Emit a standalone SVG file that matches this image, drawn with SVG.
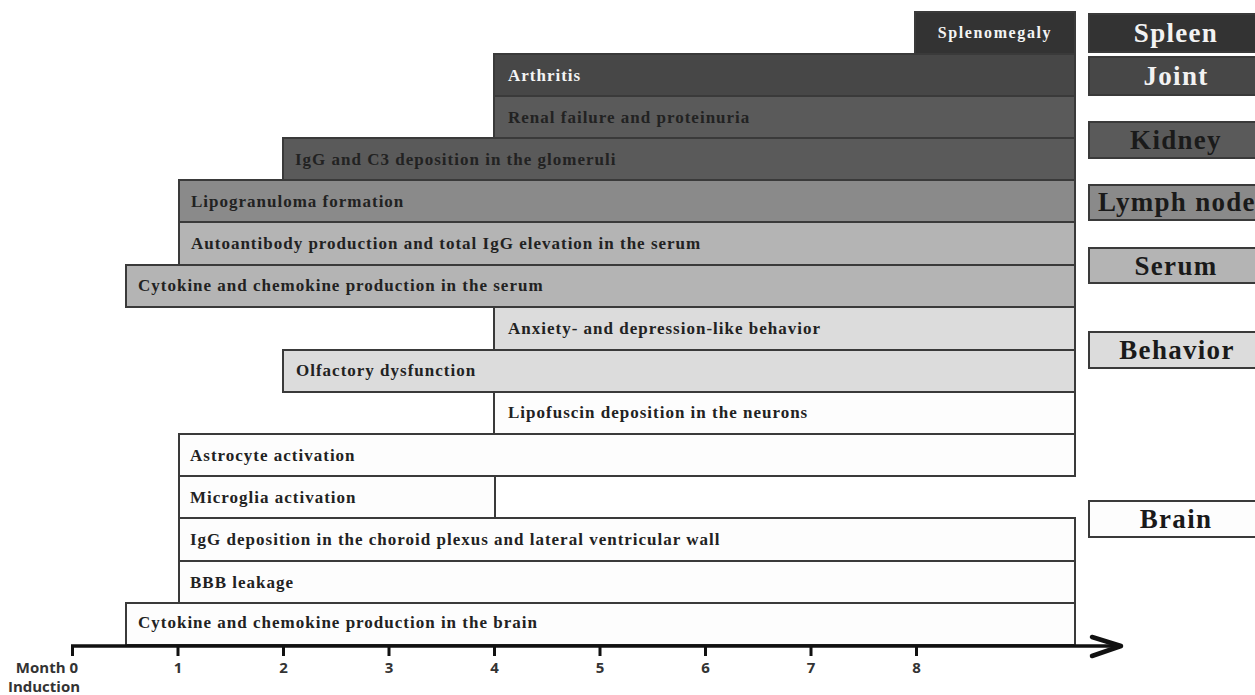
<svg xmlns="http://www.w3.org/2000/svg" width="1255" height="695" viewBox="0 0 1255 695">
<style>
.bar{stroke:#3a3a3a;stroke-width:2}
.t{font-family:"Liberation Serif","Times New Roman",serif;font-weight:bold;font-size:17px;letter-spacing:1px;fill:#222}
.tw{fill:#f4f4f4}
.lg{font-family:"Liberation Serif","Times New Roman",serif;font-weight:bold;font-size:27px;letter-spacing:1.3px;text-anchor:middle;fill:#1a1a1a}
.lgw{fill:#f2f2f2}
.ax{font-family:"Open Sans","Liberation Sans",sans-serif;font-weight:bold;font-size:15px;fill:#333;text-anchor:middle}
.axe{text-anchor:end}
.c1{fill:#333333}.c2{fill:#474747}.c3{fill:#5a5a5a}.c4{fill:#8a8a8a}.c5{fill:#b4b4b4}.c6{fill:#dcdcdc}.c7{fill:#fdfdfd}
</style>
<rect width="1255" height="695" fill="#ffffff"/>
<g id="bars">
<g id="splenomegaly"><rect class="bar c1" x="915" y="12" width="160" height="42"/><text class="t tw" x="995" y="38" text-anchor="middle" style="font-size:16px;letter-spacing:1.6px">Splenomegaly</text></g>
<g id="arthritis"><rect class="bar c2" x="494" y="54" width="581" height="42"/><text class="t tw" x="508" y="81">Arthritis</text></g>
<g id="renal"><rect class="bar c3" x="494" y="96" width="581" height="42"/><text class="t" x="508" y="123">Renal failure and proteinuria</text></g>
<g id="igg-c3"><rect class="bar c3" x="283" y="138" width="792" height="42"/><text class="t" x="295" y="165">IgG and C3 deposition in the glomeruli</text></g>
<g id="lipogranuloma"><rect class="bar c4" x="179" y="180" width="896" height="42"/><text class="t" x="191" y="207">Lipogranuloma formation</text></g>
<g id="autoantibody"><rect class="bar c5" x="179" y="222" width="896" height="43"/><text class="t" x="191" y="249">Autoantibody production and total IgG elevation in the serum</text></g>
<g id="cytokine-serum"><rect class="bar c5" x="126" y="265" width="949" height="42"/><text class="t" x="138" y="291">Cytokine and chemokine production in the serum</text></g>
<g id="anxiety"><rect class="bar c6" x="494" y="307" width="581" height="43"/><text class="t" x="508" y="334">Anxiety- and depression-like behavior</text></g>
<g id="olfactory"><rect class="bar c6" x="283" y="350" width="792" height="42"/><text class="t" x="296" y="376">Olfactory dysfunction</text></g>
<g id="lipofuscin"><rect class="bar c7" x="494" y="392" width="581" height="42"/><text class="t" x="508" y="418">Lipofuscin deposition in the neurons</text></g>
<g id="astrocyte"><rect class="bar c7" x="179" y="434" width="896" height="42"/><text class="t" x="190" y="461">Astrocyte activation</text></g>
<g id="microglia"><rect class="bar c7" x="179" y="476" width="316" height="42"/><text class="t" x="190" y="503">Microglia activation</text></g>
<g id="igg-choroid"><rect class="bar c7" x="179" y="518" width="896" height="43"/><text class="t" x="190" y="545">IgG deposition in the choroid plexus and lateral ventricular wall</text></g>
<g id="bbb"><rect class="bar c7" x="179" y="561" width="896" height="42"/><text class="t" x="190" y="588">BBB leakage</text></g>
<g id="cytokine-brain"><rect class="bar c7" x="126" y="603" width="949" height="42"/><text class="t" x="138" y="628">Cytokine and chemokine production in the brain</text></g>
</g>
<g id="legend">
<g id="lg-spleen"><rect class="bar c1" x="1089" y="14" width="175" height="38"/><text class="lg lgw" x="1176" y="42">Spleen</text></g>
<g id="lg-joint"><rect class="bar c2" x="1089" y="57" width="175" height="38"/><text class="lg lgw" x="1176" y="85">Joint</text></g>
<g id="lg-kidney"><rect class="bar c3" x="1089" y="122" width="175" height="36"/><text class="lg" x="1176" y="149">Kidney</text></g>
<g id="lg-lymph"><rect class="bar c4" x="1089" y="185" width="175" height="35"/><text class="lg" x="1177" y="211">Lymph node</text></g>
<g id="lg-serum"><rect class="bar c5" x="1089" y="248" width="175" height="35"/><text class="lg" x="1176" y="275">Serum</text></g>
<g id="lg-behavior"><rect class="bar c6" x="1089" y="332" width="175" height="36"/><text class="lg" x="1177" y="359">Behavior</text></g>
<g id="lg-brain"><rect class="bar c7" x="1089" y="501" width="175" height="36"/><text class="lg" x="1176" y="528">Brain</text></g>
</g>
<g id="connectors" stroke="#111" fill="none">
<line x1="71" y1="646" x2="1118" y2="646" stroke-width="3.5"/>
<path d="M72.5 646V656 M178 646V656 M283.5 646V656 M389 646V656 M494.5 646V656 M600 646V656 M705.5 646V656 M811 646V656 M916.5 646V656" stroke-width="3"/>
<path d="M1092 637L1121 646L1092 656" stroke-width="4.5" stroke-linecap="round" stroke-linejoin="round"/>
</g>
<g id="axis-labels">
<text class="ax axe" x="78" y="673">Month 0</text>
<text class="ax" x="44" y="692">Induction</text>
<text class="ax" x="178" y="673">1</text>
<text class="ax" x="283.5" y="673">2</text>
<text class="ax" x="389" y="673">3</text>
<text class="ax" x="494.5" y="673">4</text>
<text class="ax" x="600" y="673">5</text>
<text class="ax" x="705.5" y="673">6</text>
<text class="ax" x="811" y="673">7</text>
<text class="ax" x="916.5" y="673">8</text>
</g>
</svg>
